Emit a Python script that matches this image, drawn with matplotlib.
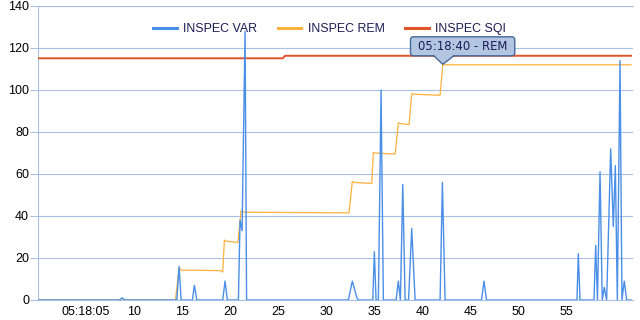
import matplotlib
matplotlib.use('Agg')
import matplotlib.pyplot as plt
from matplotlib.patches import FancyBboxPatch, Polygon
from matplotlib.lines import Line2D
import matplotlib.transforms as mtransforms

plt.rcParams['font.family'] = ['Liberation Sans', 'DejaVu Sans']

# ---- data (time in seconds after 05:18:00) ----
var_t = [0.00, 8.45, 8.75, 9.05,
         14.44, 14.68, 14.89, 16.06, 16.27, 16.52,
         19.22, 19.46, 19.70, 20.85, 21.02, 21.23, 21.54, 21.70,
         32.29, 32.70, 33.16, 33.30, 34.83, 34.99, 35.17,
         35.41, 35.69, 35.93, 37.25, 37.49, 37.70, 37.95, 38.19,
         38.55, 38.88, 39.23, 41.83, 42.07, 42.35,
         46.14, 46.40, 46.66, 56.07, 56.21, 56.39,
         57.84, 58.02, 58.20, 58.47, 58.70, 58.91, 59.16,
         59.58, 59.85, 60.06, 60.27, 60.55, 60.75, 60.99, 61.24, 61.69]
var_v = [0, 0, 1, 0,
         0, 16, 0, 0, 7, 0,
         0, 9, 0, 0, 38, 33, 128, 0,
         0, 9, 1.3, 0, 0, 23, 0,
         0, 100, 0, 0, 9, 0, 55, 0,
         0, 34, 0, 0, 56, 0,
         0, 9, 0, 0, 22, 0,
         0, 26, 0, 61, 0, 6, 0,
         72, 35, 64, 0, 114, 0, 9, 0, 0]

rem_t = [0.00, 14.30, 14.68, 14.90, 19.00, 19.22, 19.39, 19.60, 20.79,
         21.13, 21.35, 32.36, 32.70, 32.90, 34.72, 34.89, 35.10, 37.15,
         37.49, 37.70, 38.60, 38.88, 39.10, 41.83, 42.11, 61.69]
rem_v = [0, 0, 15.4, 14.2, 14.0, 13.3, 28.5, 28.0, 27.4,
         42.5, 41.8, 41.5, 56.5, 56.0, 55.5, 70.3, 70.0, 69.5,
         84.4, 84.0, 83.5, 98.3, 98.0, 97.5, 112, 112]

sqi_t = [0.00, 25.47, 25.71, 61.69]
sqi_v = [115.1, 115.1, 116.3, 116.3]

series_names = ['INSPEC VAR', 'INSPEC REM', 'INSPEC SQI']
x_tick_pos = [5, 10, 15, 20, 25, 30, 35, 40, 45, 50, 55]
x_tick_labels = ['05:18:05', '10', '15', '20', '25', '30', '35', '40', '45', '50', '55']
y_ticks = [0, 20, 40, 60, 80, 100, 120, 140]

tip_t, tip_v = 42.11, 112
tip_text = '05:18:40 - REM'

# ---- styling ----
grid_c = '#a8c0e4'
c_var = '#4a8fe7'
c_rem = '#ffb13d'
c_sqi = '#e4542a'

fig = plt.figure(figsize=(6.4, 3.2), dpi=100)
ax = fig.add_axes([38 / 640, 1 - 300 / 320, (633 - 38) / 640, 294 / 320])

ax.plot(sqi_t, sqi_v, color=c_sqi, lw=1.4, label=series_names[2], zorder=3)
ax.plot(rem_t, rem_v, color=c_rem, lw=0.9, label=series_names[1], zorder=4)
ax.plot(var_t, var_v, color=c_var, lw=1.0, label=series_names[0], zorder=5)

ax.set_xlim(0, 61.9)
ax.set_ylim(0, 140)
ax.set_yticks(y_ticks)
ax.set_xticks(x_tick_pos)
ax.set_xticklabels(x_tick_labels)
ax.yaxis.grid(True, color=grid_c, lw=0.8)
ax.set_axisbelow(True)

for s in ['left', 'bottom', 'top']:
    ax.spines[s].set_color(grid_c)
    ax.spines[s].set_linewidth(0.8)
ax.spines['right'].set_visible(False)

ax.tick_params(axis='y', length=5.8, width=0.8, color=grid_c, pad=0.6,
               labelsize=9, labelcolor='black')
ax.tick_params(axis='x', length=0, pad=4, labelsize=9, labelcolor='black')

handles, labels = ax.get_legend_handles_labels()
order = [2, 1, 0]
leg = ax.legend([handles[i] for i in order], [labels[i] for i in order],
                loc='center', bbox_to_anchor=(0.49, 0.922), ncol=3,
                frameon=False, handlelength=1.9, handletextpad=0.5,
                columnspacing=1.7, fontsize=8.9, borderaxespad=0)
for ln in leg.get_lines():
    ln.set_linewidth(2.2)
for t in leg.get_texts():
    t.set_color('#1c1c55')

# ---- tooltip callout ----
fig.canvas.draw()
axp, ayp = ax.transData.transform((tip_t, tip_v))
idt = mtransforms.IdentityTransform()
box_l, box_r = axp - 32.3, axp + 72
box_b, box_t = ayp + 9, ayp + 28
tip_fc = '#b2c6e1'
tip_ec = '#47679a'
box = FancyBboxPatch((box_l, box_b), box_r - box_l, box_t - box_b,
                     boxstyle='round,pad=0,rounding_size=3',
                     fc=tip_fc, ec=tip_ec, lw=1.0, transform=idt, zorder=10)
fig.add_artist(box)
tri = Polygon([(axp - 9, box_b + 0.8), (axp + 11, box_b + 0.8), (axp, ayp + 0.5)],
              closed=True, fc=tip_fc, ec='none', transform=idt, zorder=11)
fig.add_artist(tri)
fig.add_artist(Line2D([axp - 9, axp, axp + 11], [box_b, ayp + 0.5, box_b],
                      color=tip_ec, lw=1.0, transform=idt, zorder=12))
fig.text((box_l + box_r) / 2 / 640, ((box_b + box_t) / 2) / 320, tip_text,
         ha='center', va='center', fontsize=8.4, color='#1c1c55',
         family=['DejaVu Sans'], zorder=13)

fig.savefig('out.png', dpi=100)
